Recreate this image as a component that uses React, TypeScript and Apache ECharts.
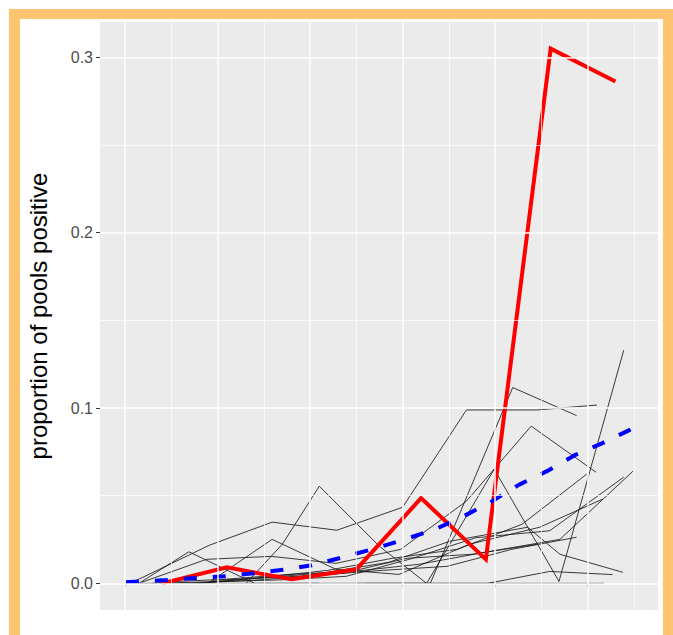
import React, { useEffect, useRef } from "react";
import * as echarts from "echarts";

// ---- data (x = day of year, y = proportion of pools positive) ----
const redDays = [154, 161, 168, 175, 182, 189, 196, 203];
const redVals = [0, 0.0091, 0.0023, 0.008, 0.0486, 0.0137, 0.305, 0.2863];

const trendDays = [150.1, 154, 157.3, 160.7, 163.9, 167.4, 170.2, 173.9, 177.1, 180.4, 183.4, 186.5, 189.6, 192.6, 195.6, 198.6, 201.6, 204.5, 204.9];
const trendVals = [0.0006, 0.0017, 0.0029, 0.004, 0.0057, 0.008, 0.0103, 0.0154, 0.02, 0.0254, 0.0306, 0.038, 0.0466, 0.0563, 0.064, 0.0731, 0.08, 0.0874, 0.0886];

const line1Days = [150.1, 157, 164, 171, 178, 185, 192, 201.8];
const line1Vals = [0, 0, 0, 0, 0, 0, 0, 0];
const line2Days = [175, 182, 189.2, 195.9, 202.7];
const line2Vals = [0, 0, 0, 0.0068, 0.005];
const line3Days = [151.5, 156.9, 164, 171];
const line3Vals = [0, 0.018, 0, 0];
const line4Days = [150.8, 159.1, 165.9, 172.9, 180, 186.9, 194.5, 201];
const line4Vals = [0.0006, 0.0217, 0.0349, 0.0303, 0.0434, 0.0989, 0.0989, 0.1017];
const line5Days = [163.1, 167, 171, 177.5, 182.6, 189.9, 196.9, 203.9];
const line5Vals = [0, 0.0223, 0.0554, 0.0211, 0, 0.0651, 0.0011, 0.133];
const line6Days = [176, 183, 191.9, 198.8];
const line6Vals = [0, 0, 0.1117, 0.0957];
const line7Days = [151.8, 158.8, 165.8, 172.8, 179.8, 186.9, 193.9, 200.9];
const line7Vals = [0.0006, 0.0137, 0.0154, 0.0114, 0.0194, 0.0469, 0.0897, 0.0634];
const line8Days = [159.1, 165.9, 172.8, 179.6, 187.2, 194.8, 201.6];
const line8Vals = [0.0006, 0.0251, 0.008, 0.0051, 0.0223, 0.032, 0.048];
const line9Days = [153.7, 160.7, 167.7, 174.8, 181.8, 188.9, 197, 204.9];
const line9Vals = [0.0006, 0.0023, 0.0051, 0.0069, 0.0109, 0.0177, 0.0251, 0.064];
const line10Days = [152.9, 159.9, 166.9, 173.9, 180.9, 187.9, 195.9, 203.9];
const line10Vals = [0, 0.001, 0.002, 0.004, 0.014, 0.026, 0.03, 0.0606];
const line11Days = [157.5, 164.5, 171.5, 178.5, 185.1, 193.5, 197, 203.8];
const line11Vals = [0, 0.003, 0.006, 0.012, 0.024, 0.032, 0.0166, 0.0063];
const line12Days = [156.8, 163.8, 170.8, 177.8, 184.8, 191.8, 198.8];
const line12Vals = [0, 0.0017, 0.0046, 0.0074, 0.0097, 0.0194, 0.0263];
const line13Days = [157.9, 164.9, 171.9, 178.9, 185.9, 192.9, 199.9];
const line13Vals = [0, 0.0034, 0.0074, 0.0143, 0.0194, 0.0337, 0.0623];
const line14Days = [159.5, 166.5, 173.5, 180.5, 187.5, 194.5];
const line14Vals = [0.0017, 0.0034, 0.0057, 0.0143, 0.0166, 0.0223];

const blackLines = [
  [line1Days, line1Vals], [line2Days, line2Vals], [line3Days, line3Vals],
  [line4Days, line4Vals], [line5Days, line5Vals], [line6Days, line6Vals],
  [line7Days, line7Vals], [line8Days, line8Vals], [line9Days, line9Vals],
  [line10Days, line10Vals], [line11Days, line11Vals], [line12Days, line12Vals],
  [line13Days, line13Vals], [line14Days, line14Vals],
];

const xMajor = [150, 160, 170, 180, 190, 200];
const xMinor = [155, 165, 175, 185, 195, 205];
const yMajor = [0, 0.1, 0.2, 0.3];
const yMinor = [0.05, 0.15, 0.25];
const yLabels = ["0.0", "0.1", "0.2", "0.3"];

const FONT = "'Liberation Sans', Arial, sans-serif";

const pair = (d: number[], v: number[]) => d.map((x, i) => [x, v[i]]);

export default function App() {
  const ref = useRef<HTMLDivElement>(null);
  useEffect(() => {
    if (!ref.current) return;
    const chart = echarts.init(ref.current, undefined, { renderer: "svg" });
    const gridLineData: any[] = [
      ...xMinor.map((v) => ({ xAxis: v, lineStyle: { color: "#ffffff", width: 0.7, type: "solid" } })),
      ...yMinor.map((v) => ({ yAxis: v, lineStyle: { color: "#ffffff", width: 0.7, type: "solid" } })),
      ...xMajor.map((v) => ({ xAxis: v, lineStyle: { color: "#ffffff", width: 1.5, type: "solid" } })),
      ...yMajor.map((v) => ({ yAxis: v, lineStyle: { color: "#ffffff", width: 1.5, type: "solid" } })),
    ];
    const series: any[] = [
      {
        type: "line",
        data: [],
        silent: true,
        z: 1,
        markLine: {
          silent: true,
          symbol: ["none", "none"],
          label: { show: false },
          emphasis: { disabled: true },
          lineStyle: { type: "solid" },
          data: gridLineData,
        },
      },
      ...blackLines.map(([d, v]) => ({
        type: "line",
        data: pair(d as number[], v as number[]),
        showSymbol: false,
        symbol: "none",
        silent: true,
        z: 2,
        lineStyle: { color: "#1a1a1a", width: 1, opacity: 0.85 },
      })),
      {
        type: "line",
        data: pair(redDays, redVals),
        showSymbol: false,
        symbol: "none",
        z: 3,
        lineStyle: { color: "#ff0000", width: 4, join: "miter" },
      },
      {
        type: "line",
        data: pair(trendDays, trendVals),
        showSymbol: false,
        symbol: "none",
        z: 4,
        lineStyle: { color: "#0000ff", width: 4, type: [13, 16], cap: "butt" },
      },
    ];
    chart.setOption({
      animation: false,
      grid: {
        left: 100,
        top: 22,
        width: 558,
        height: 588,
        show: true,
        backgroundColor: "#EBEBEB",
        borderWidth: 0,
        containLabel: false,
      },
      xAxis: {
        type: "value",
        min: 147.3,
        max: 207.6,
        axisLine: { show: false },
        axisTick: { show: true, customValues: xMajor, length: 4, lineStyle: { color: "#333333", width: 1 } },
        axisLabel: { show: false },
        splitLine: { show: false },
      },
      yAxis: {
        type: "value",
        min: -0.0152,
        max: 0.3202,
        axisLine: { show: false },
        axisTick: { show: true, customValues: yMajor, length: 4, lineStyle: { color: "#333333", width: 1 } },
        axisLabel: {
          customValues: yMajor,
          formatter: (val: number) => yLabels[yMajor.findIndex((t) => Math.abs(t - val) < 1e-9)] ?? val.toFixed(1),
          color: "#4D4D4D",
          fontSize: 16,
          fontFamily: FONT,
          margin: 7,
        },
        splitLine: { show: false },
        name: "proportion of pools positive",
        nameLocation: "middle",
        nameGap: 50,
        nameTextStyle: { color: "#000000", fontSize: 24, fontFamily: FONT },
      },
      series,
    });
    return () => chart.dispose();
  }, []);

  return (
    <div style={{ position: "fixed", left: 0, top: 0, width: 673, height: 635, background: "#ffffff", overflow: "hidden" }}>
      <div
        style={{
          position: "absolute",
          left: 9,
          top: 9,
          width: 643,
          height: 700,
          borderLeft: "11px solid #FFC46F",
          borderTop: "10px solid #FFC46F",
          borderRight: "11px solid #FFC46F",
          borderBottom: "11px solid #FFC46F",
          background: "#ffffff",
        }}
      />
      <div ref={ref} style={{ position: "absolute", left: 0, top: 0, width: 673, height: 635 }} />
    </div>
  );
}
